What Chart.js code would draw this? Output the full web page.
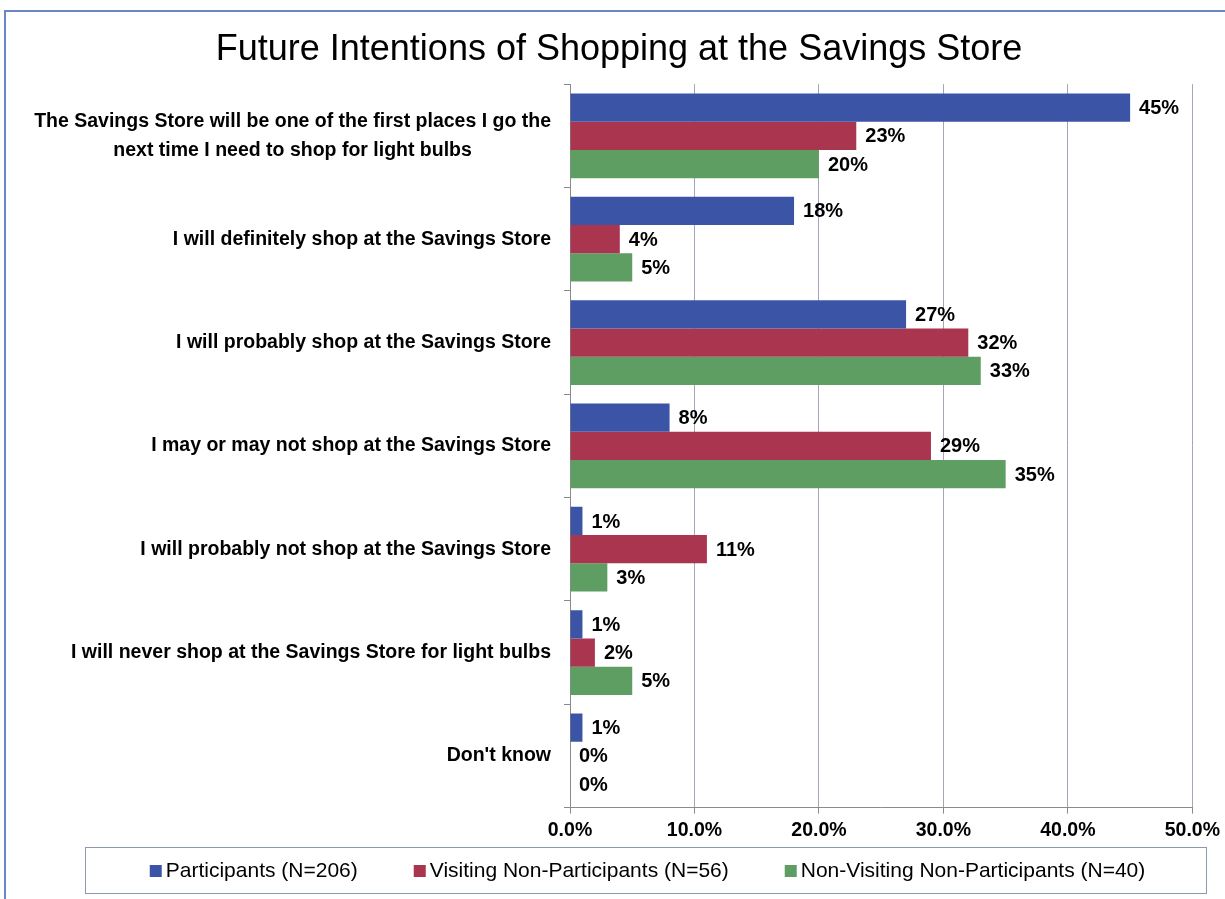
<!DOCTYPE html>
<html>
<head>
<meta charset="utf-8">
<title>Future Intentions of Shopping at the Savings Store</title>
<script src="https://cdn.jsdelivr.net/npm/chart.js@4.4.1/dist/chart.umd.min.js"></script>
<style>
  html, body { margin: 0; padding: 0; background: #fff; }
  #wrap { position: relative; width: 1225px; height: 899px; overflow: hidden; }
  #frame { position: absolute; left: 4px; top: 10px; right: -10px; bottom: -10px;
           border-left: 2px solid #6a86c4; border-top: 2px solid #6a86c4; pointer-events: none; }
  canvas { display: block; }
</style>
</head>
<body>
<div id="wrap">
  <canvas id="intentChart" width="1225" height="899"></canvas>
  <div id="frame"></div>
</div>
<script>
// survey answers, top to bottom
const categories = [
    ['The Savings Store will be one of the first places I go the', 'next time I need to shop for light bulbs'],
    'I will definitely shop at the Savings Store',
    'I will probably shop at the Savings Store',
    'I may or may not shop at the Savings Store',
    'I will probably not shop at the Savings Store',
    'I will never shop at the Savings Store for light bulbs',
    "Don't know"
];
const seriesNames = ['Participants (N=206)', 'Visiting Non-Participants (N=56)', 'Non-Visiting Non-Participants (N=40)'];
const participants = [45, 18, 27, 8, 1, 1, 1];
const visitingNonParticipants = [23, 4, 32, 29, 11, 2, 0];
const nonVisitingNonParticipants = [20, 5, 33, 35, 3, 5, 0];
const xTicks = [0, 10, 20, 30, 40, 50];

const seriesColors = ['#3b54a6', '#a9354f', '#5f9e63'];
const FONT = '"Liberation Sans", Arial, sans-serif';

// left-hand answer text; multi-line answers are centred on their longest line
const categoryLabels = {
    id: 'categoryLabels',
    afterDraw(chart) {
        const { ctx, chartArea, scales: { y } } = chart;
        ctx.save();
        ctx.font = 'bold 19.5px ' + FONT;
        ctx.fillStyle = '#000';
        ctx.textAlign = 'center';
        ctx.textBaseline = 'middle';
        const right = chartArea.left - 19;
        categories.forEach((label, i) => {
            const lines = Array.isArray(label) ? label : [label];
            const w = Math.max(...lines.map(l => ctx.measureText(l).width));
            const yc = y.getPixelForValue(i);
            lines.forEach((line, k) => {
                ctx.fillText(line, right - w / 2, yc + (k - (lines.length - 1) / 2) * 29);
            });
        });
        ctx.restore();
    }
};

// percentage at the end of every bar
const barValues = {
    id: 'barValues',
    afterDatasetsDraw(chart) {
        const { ctx } = chart;
        ctx.save();
        ctx.font = 'bold 20px ' + FONT;
        ctx.fillStyle = '#000';
        ctx.textAlign = 'left';
        ctx.textBaseline = 'middle';
        chart.data.datasets.forEach((ds, di) => {
            chart.getDatasetMeta(di).data.forEach((bar, i) => {
                ctx.fillText(Math.round(ds.data[i]) + '%', bar.x + 9, bar.y + 1);
            });
        });
        ctx.restore();
    }
};

// boxed legend along the bottom
const boxedLegend = {
    id: 'boxedLegend',
    afterDraw(chart) {
        const { ctx } = chart;
        const box = { left: 85, right: 1206, top: 847, bottom: 893 };
        ctx.save();
        ctx.strokeStyle = '#8d99b2';
        ctx.lineWidth = 1;
        ctx.strokeRect(box.left + 0.5, box.top + 0.5, box.right - box.left, box.bottom - box.top);

        ctx.font = '21px ' + FONT;
        ctx.textBaseline = 'middle';
        ctx.textAlign = 'left';
        const marker = 12, gap = 4, spacing = 56;
        const widths = seriesNames.map(n => ctx.measureText(n).width);
        const total = widths.reduce((a, w) => a + marker + gap + w, 0) + spacing * (seriesNames.length - 1);
        let x = (box.left + box.right) / 2 - total / 2 + 2;
        const yc = (box.top + box.bottom) / 2 + 1;
        seriesNames.forEach((name, i) => {
            ctx.fillStyle = seriesColors[i];
            ctx.fillRect(x, yc - marker / 2, marker, marker);
            ctx.fillStyle = '#000';
            ctx.fillText(name, x + marker + gap, yc);
            x += marker + gap + widths[i] + spacing;
        });
        ctx.restore();
    }
};

const seriesValues = [participants, visitingNonParticipants, nonVisitingNonParticipants];

new Chart(document.getElementById('intentChart'), {
    type: 'bar',
    data: {
        labels: categories,
        datasets: seriesNames.map((name, i) => ({
            label: name,
            data: seriesValues[i],
            backgroundColor: seriesColors[i],
            borderWidth: 0,
            barPercentage: 1,
            categoryPercentage: 0.82
        }))
    },
    options: {
        indexAxis: 'y',
        responsive: false,
        animation: false,
        layout: { padding: { left: 45, right: 32, top: 0, bottom: 52 } },
        scales: {
            x: {
                min: 0,
                max: 50,
                afterBuildTicks: scale => { scale.ticks = xTicks.map(v => ({ value: v })); },
                ticks: {
                    color: '#000',
                    padding: 5,
                    font: { family: FONT, size: 19.5, weight: 'bold' },
                    callback: v => v.toFixed(1) + '%'
                },
                grid: { color: '#a2a6b8', tickColor: '#8a8a8a', tickLength: 6 },
                border: { color: '#8a8a8a' }
            },
            y: {
                ticks: { display: false },
                grid: { drawOnChartArea: false, color: '#8a8a8a', tickLength: 6, offset: true },
                border: { color: '#8a8a8a' },
                afterFit: scale => { scale.width = 525; }
            }
        },
        plugins: {
            legend: { display: false },
            tooltip: { enabled: false },
            title: {
                display: true,
                text: 'Future Intentions of Shopping at the Savings Store',
                color: '#000',
                font: { family: FONT, size: 36, weight: 'normal' },
                padding: { top: 28, bottom: 13 }
            }
        }
    },
    plugins: [categoryLabels, barValues, boxedLegend]
});
</script>
</body>
</html>
